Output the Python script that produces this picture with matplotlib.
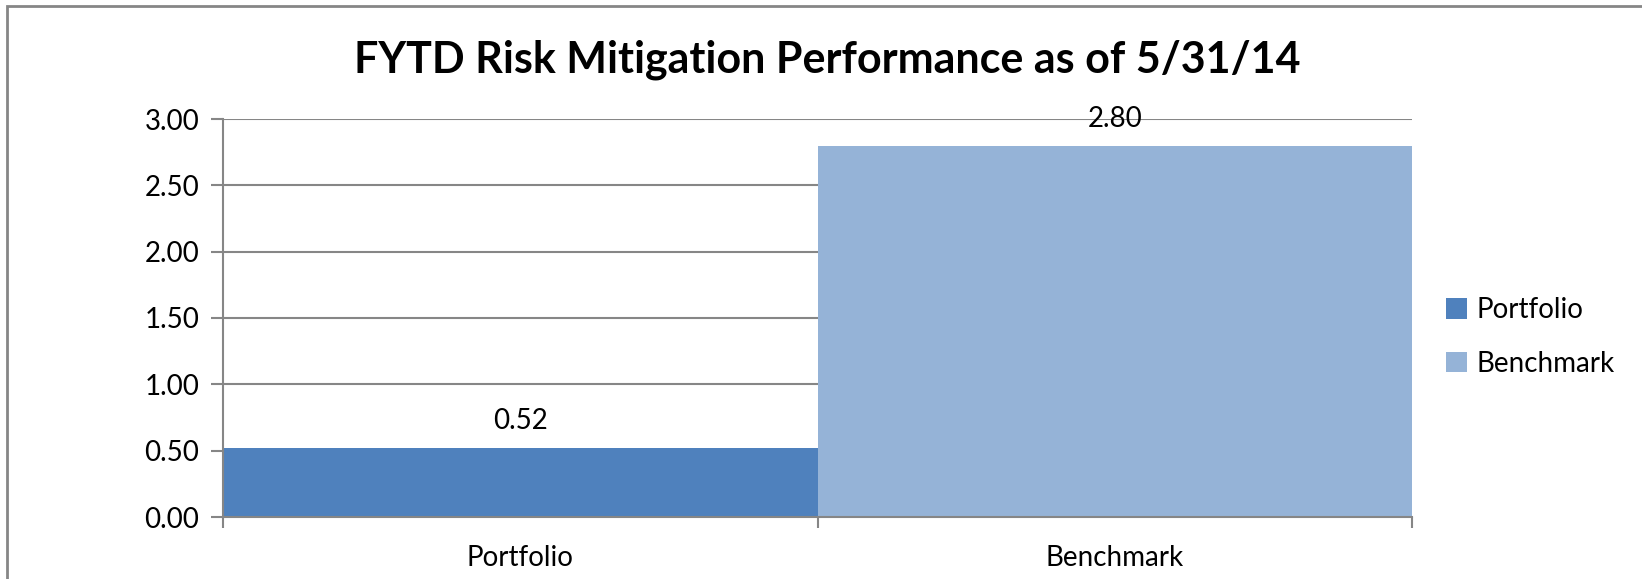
import matplotlib
matplotlib.use("Agg")
import matplotlib.pyplot as plt
from matplotlib.patches import Rectangle

categories = ["Portfolio", "Benchmark"]
values = [0.52, 2.80]
colors = ["#4F81BD", "#95B3D7"]
yticks = [0.0, 0.5, 1.0, 1.5, 2.0, 2.5, 3.0]
title = "FYTD Risk Mitigation Performance as of 5/31/14"

plt.rcParams['font.family'] = ['Lato', 'DejaVu Sans']

W, H = 1642, 579
fig = plt.figure(figsize=(W / 100, H / 100), dpi=100)
ax = fig.add_axes([223 / W, 1 - 517 / H, (1412 - 223) / W, (517 - 119) / H])

FS = 20
grid_c = "#868686"
bars = []
for i, (c, v, col) in enumerate(zip(categories, values, colors)):
    b = ax.bar(i, v, width=1.0, color=col, label=c, zorder=2)
    bars.append(b)
    ax.annotate(f"{v:.2f}", (i, v), xytext=(0, 27), textcoords="offset pixels",
                ha="center", va="center", fontsize=FS, color="#000000", zorder=4)

ax.set_xlim(-0.5, len(categories) - 0.5)
ax.set_ylim(0, 3.0)
ax.set_yticks(yticks)
ax.set_yticklabels([f"{t:.2f}" for t in yticks])
ax.yaxis.grid(True, color=grid_c, linewidth=1.5, zorder=0)
ax.set_axisbelow(True)

# x ticks at category boundaries, labels at centers
ax.set_xticks([-0.5 + k for k in range(len(categories) + 1)])
ax.set_xticklabels([])
ax.set_xticks(range(len(categories)), minor=True)
ax.set_xticklabels(categories, minor=True)
ax.tick_params(axis="x", which="major", direction="out", length=8, width=1.5, color=grid_c)
ax.tick_params(axis="x", which="minor", length=0, labelsize=FS, pad=20)
ax.tick_params(axis="y", direction="out", length=9, width=1.5, color=grid_c, labelsize=FS, pad=8)

for s in ["top", "right"]:
    ax.spines[s].set_visible(False)
for s in ["left", "bottom"]:
    ax.spines[s].set_color(grid_c)
    ax.spines[s].set_linewidth(1.5)
ax.spines["bottom"].set_zorder(3)

fig.text(827 / W, 1 - 60 / H, title, ha="center", va="center",
         fontsize=31, fontweight="bold", color="#000000")

leg = fig.legend(handles=[b[0] for b in bars], labels=categories,
                 loc="center left", bbox_to_anchor=(1421 / W, 1 - 337 / H),
                 frameon=False, fontsize=FS, handlelength=0.75, handleheight=0.75,
                 handletextpad=0.35, labelspacing=1.0)

fig.patches.append(Rectangle((7 / W, -0.05), 1.2, 1 - 6 / H + 0.05, transform=fig.transFigure,
                             fill=False, edgecolor="#868686", linewidth=2))

fig.savefig("out.png", dpi=100)
